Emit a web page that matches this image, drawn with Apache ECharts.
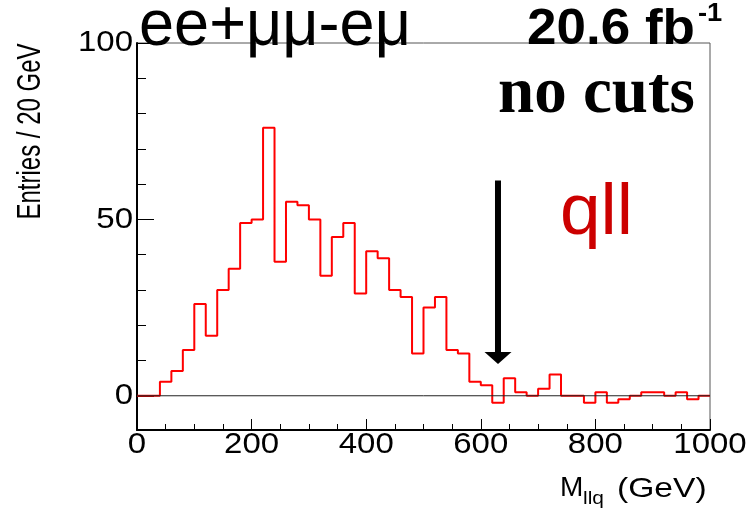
<!DOCTYPE html>
<html><head><meta charset="utf-8">
<script src="https://cdn.jsdelivr.net/npm/echarts@6/dist/echarts.min.js"></script>
<style>html,body{margin:0;padding:0;background:#fff}#c{width:748px;height:510px}</style>
</head><body><div id="c"></div>
<script>
// M_llq distribution, 20 GeV bins from 0 to 1000 GeV
const binLow = 0;
const binWidth = 20;
const entries = [0,0,4,7,13,26,17,30,36,49,50,76,38,55,54,50,34,45,49,29,
                 41,39,30,28,12,25,28,13,12,4,3,-2,5,1,0,2,6,0,0,-2,
                 1,-2,-1,0,1,1,0,1,-1,0];
const xTickLabels = [0,200,400,600,800,1000];
const yTickLabels = [0,50,100];
const yMinorTicks = [10,20,30,40,60,70,80,90];
const yRange = [-9.7, 100];
const cutArrow = [[630, 61, 9]]; // x, top, tip

const chart = echarts.init(document.getElementById('c'));

// step outline: left edge of each bin, plus closing point at upper edge of last bin
const outline = entries.map((v, i) => [binLow + i * binWidth, v]);
outline.push([binLow + entries.length * binWidth, entries[entries.length - 1]]);

chart.setOption({
  animation: false,
  backgroundColor: '#fff',
  grid: {left: 137, right: 38, top: 43, bottom: 80, show: true, borderColor: '#555', borderWidth: 1},
  xAxis: {
    type: 'value', min: 0, max: 1000, interval: 200,
    axisLine: {show: true, onZero: false, lineStyle: {color: '#000', width: 2}},
    axisTick: {show: true, inside: true, length: 11, lineStyle: {color: '#000', width: 1}},
    minorTick: {show: true, splitNumber: 4, length: 6, lineStyle: {color: '#000', width: 1}},
    axisLabel: {show: false},
    splitLine: {show: false}
  },
  yAxis: [{
    type: 'value', min: yRange[0], max: yRange[1], position: 'left',
    axisLine: {show: true, onZero: false, lineStyle: {color: '#000', width: 2}},
    axisTick: {show: true, inside: true, length: 17, customValues: yTickLabels, lineStyle: {color: '#000', width: 1}},
    axisLabel: {show: false, customValues: yTickLabels},
    splitLine: {show: false}
  }, {
    type: 'value', min: yRange[0], max: yRange[1], position: 'left', offset: 0,
    axisLine: {show: false},
    axisTick: {show: true, inside: true, length: 9, customValues: yMinorTicks, lineStyle: {color: '#000', width: 1}},
    axisLabel: {show: false, customValues: yMinorTicks},
    splitLine: {show: false}
  }],
  series: [{
    type: 'line', step: 'end', data: outline, symbol: 'none', z: 3,
    lineStyle: {color: '#ff0000', width: 2}
  }, {
    type: 'line', data: [[0, 0], [1000, 0]], symbol: 'none', z: 4,
    lineStyle: {color: '#222', width: 1}
  }, {
    type: 'custom', data: cutArrow, z: 5,
    renderItem(params, api) {
      const top = api.coord([api.value(0), api.value(1)]);
      const tip = api.coord([api.value(0), api.value(2)]);
      const headLen = 12, headHalf = 13.5;
      return {type: 'group', children: [
        {type: 'line', shape: {x1: top[0], y1: top[1], x2: tip[0], y2: tip[1] - headLen + 1},
         style: {stroke: '#000', lineWidth: 6}},
        {type: 'polygon', shape: {points: [[tip[0] - headHalf, tip[1] - headLen], [tip[0] + headHalf, tip[1] - headLen], [tip[0], tip[1]]]},
         style: {fill: '#000'}}
      ]};
    }
  }]
});

function txt(text, x, y, size, o) {
  o = o || {};
  const align = o.align || 'left';
  return {
    type: 'text', x: x, y: y, scaleX: o.sx || 1, scaleY: o.sy || 1, rotation: o.rot || 0,
    silent: true, z: 10,
    style: {
      text: text, x: 0, y: 0,
      font: (o.weight || 'normal') + ' ' + size + 'px ' + (o.family || '"Liberation Sans", Arial, sans-serif'),
      fill: o.color || '#000',
      align: align, verticalAlign: 'middle', textAlign: align, textVerticalAlign: 'middle'
    }
  };
}

const labels = [];
yTickLabels.forEach(v => {
  const py = chart.convertToPixel({yAxisIndex: 0}, v);
  labels.push(txt(String(v), 133, py, 30, {align: 'right', sx: 1.1}));
});
xTickLabels.forEach(v => {
  const px = chart.convertToPixel({xAxisIndex: 0}, v);
  labels.push(txt(String(v), px, 445, 30, {align: 'center', sx: 1.1}));
});

labels.push(
  txt('ee+μμ-eμ', 139, 27.5, 65, {sx: 0.97}),
  txt('20.6 fb', 527, 30.5, 50, {weight: 'bold', sx: 1.06}),
  txt('-1', 698, 14, 26, {weight: 'bold', sx: 1.05}),
  txt('no cuts', 498, 95, 65, {weight: 'bold', family: '"Liberation Serif", "Times New Roman", serif'}),
  txt('qll', 560, 214, 73, {color: '#cc0000'}),
  txt('Entries / 20 GeV', 30.5, 131.5, 24, {align: 'center', rot: Math.PI / 2, sy: 1.4}),
  txt('M', 560, 488, 28),
  txt('llq', 583, 499, 19, {sx: 1.1}),
  txt('(GeV)', 617, 489, 28, {sx: 1.2})
);

chart.setOption({graphic: {elements: labels}});
</script>
</body></html>
